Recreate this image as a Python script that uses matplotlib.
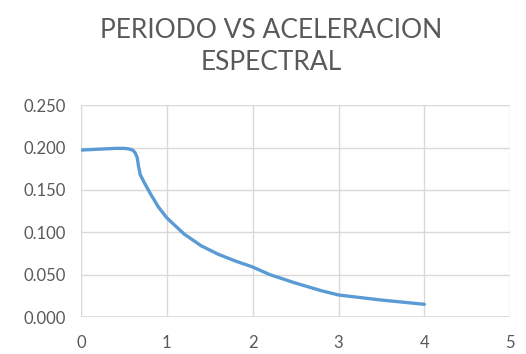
import matplotlib.pyplot as plt
import numpy as np

plt.rcParams['font.family'] = ['Lato', 'DejaVu Sans']

periodo = [0, 0.2, 0.4, 0.5, 0.55, 0.6, 0.63, 0.655, 0.67, 0.69, 0.73, 0.8, 0.9,
           1.0, 1.2, 1.4, 1.6, 1.8, 2.0, 2.2, 2.5, 2.8, 3.0, 3.5, 4.0]
acel = [0.197, 0.198, 0.199, 0.199, 0.1985, 0.197, 0.194, 0.188, 0.178, 0.168,
        0.160, 0.147, 0.130, 0.117, 0.098, 0.084, 0.074, 0.066, 0.059, 0.050,
        0.040, 0.031, 0.026, 0.020, 0.015]
xticks = [0, 1, 2, 3, 4, 5]
yticks = [0.0, 0.05, 0.10, 0.15, 0.20, 0.25]
gray = '#595959'

fig = plt.figure(figsize=(5.26, 3.54), dpi=100)
ax = fig.add_axes([0.154, 0.1045, 0.816, 0.5985])
ax.plot(periodo, acel, color='#5b9bd5', lw=2.4, solid_capstyle='round',
        solid_joinstyle='round', zorder=3)

ax.set_xlim(0, 5)
ax.set_ylim(0, 0.25)
ax.set_xticks(xticks)
ax.set_yticks(yticks)
ax.set_yticklabels([f'{v:.3f}' for v in yticks])
ax.grid(True, color='#d9d9d9', lw=1)
for s in ax.spines.values():
    s.set_visible(False)
ax.axhline(0, color='#d9d9d9', lw=1.2)
ax.axvline(0, color='#d9d9d9', lw=1.2)
ax.tick_params(length=0, labelsize=12, labelcolor=gray, pad=11)
ax.tick_params(axis='x', pad=13)

fig.text(0.515, 0.913, 'PERIODO VS ACELERACION', ha='center', va='center',
         fontsize=19, color=gray)
fig.text(0.515, 0.823, 'ESPECTRAL', ha='center', va='center',
         fontsize=19, color=gray)

fig.savefig('out.png', dpi=100)
